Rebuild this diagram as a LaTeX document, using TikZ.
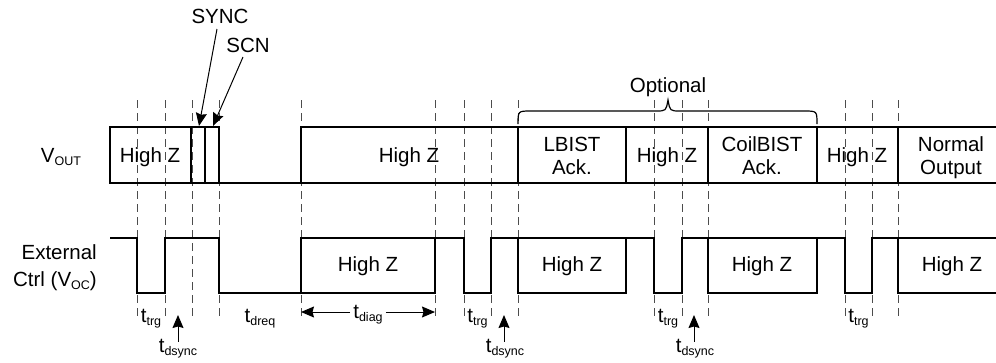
\documentclass[tikz,border=0pt]{standalone}
\usepackage{fontspec}
\setmainfont{Liberation Sans}
\usetikzlibrary{arrows.meta}
\newcommand\lbl[2]{#1\raisebox{-3.5pt}{\fontsize{12.5}{12.5}\selectfont #2}}
\begin{document}
\begin{tikzpicture}[x=1pt,y=-1pt,
  sig/.style={line width=1.4pt, line join=miter, line cap=rect},
  thicksig/.style={line width=2pt},
  guide/.style={line width=0.8pt, dash pattern=on 8pt off 5pt, black!70},
  txt/.style={font=\fontsize{20.5}{25}\selectfont, inner sep=0pt, anchor=base},
  arr/.style={line width=1pt, -{Stealth[length=13pt,width=11pt,inset=1.5pt]}},
  brace/.style={line width=1.2pt}
]
\useasboundingbox (0,0) rectangle (996,362);

% dashed guides
\foreach \x in {137,165,192,219,301,435,464,491,518,654,682,708,845,872,898}
  \draw[guide] (\x,100) -- (\x,320);

% V_OUT signal
\draw[sig] (219,127) -- (110,127) -- (110,183) -- (996,183);
\draw[sig] (301,183) -- (301,127) -- (996,127);
\draw[sig,thicksig] (191,127) -- (191,183) (205,127) -- (205,183);
\draw[sig] (219,127) -- (219,183);
\foreach \x in {518,626,708,817,898}
  \draw[sig] (\x,127) -- (\x,183);

% External Ctrl signal
\draw[sig] (111,238) -| (137,293) -| (165,238) -| (219,293) -| (301,238)
  -| (464,293) -| (491,238) -| (654,293) -| (682,238) -| (845,293) -| (872,238) -- (996,238);
\draw[sig] (301,293) -| (435,238);
\draw[sig] (518,238) |- (626,293) -- (626,238);
\draw[sig] (708,238) |- (817,293) -- (817,238);
\draw[sig] (898,238) |- (996,293);

% brace
\draw[brace] (518,124) .. controls (518,111) .. (531,111) -- (656,111)
  .. controls (666,111) .. (668,100) .. controls (670,111) .. (680,111)
  -- (804,111) .. controls (817,111) .. (817,124);
\node[txt] (opt) at (668,92) {Optional};

% row labels
\node[txt] (vout) at (61,162) {\lbl{V}{OUT}};
\node[txt,anchor=base east] (ext1) at (97,259) {External};
\node[txt,anchor=base east] (ext2) at (97,286) {Ctrl (\lbl{V}{OC})};

% V_OUT texts
\node[txt] (hz1) at (150,162) {High Z};
\node[txt] (hz2) at (409,162) {High Z};
\node[txt] (lb1) at (572,151) {LBIST};
\node[txt] (lb2) at (572,174) {Ack.};
\node[txt] (hz3) at (667,162) {High Z};
\node[txt] (cb1) at (762,151) {CoilBIST};
\node[txt] (cb2) at (762,174) {Ack.};
\node[txt] (hz4) at (857,162) {High Z};
\node[txt] (no1) at (951,151) {Normal};
\node[txt] (no2) at (951,174) {Output};

% External Ctrl texts
\node[txt] (lz1) at (368,271) {High Z};
\node[txt] (lz2) at (572,271) {High Z};
\node[txt] (lz3) at (762,271) {High Z};
\node[txt] (lz4) at (952,271) {High Z};

% SYNC / SCN callouts
\node[txt] (sync) at (220,23) {SYNC};
\node[txt] (scn) at (248,52) {SCN};
\coordinate (synctail) at (217,29);
\coordinate (synctip) at (199,126);
\coordinate (scntail) at (243,57);
\coordinate (scntip) at (213,126);
\draw[arr] (synctail) -- (synctip);
\draw[arr] (scntail) -- (scntip);

% timing labels
\node[txt] (trg1) at (151,322) {\lbl{t}{trg}};
\node[txt] (trg2) at (477.5,322) {\lbl{t}{trg}};
\node[txt] (trg3) at (668,322) {\lbl{t}{trg}};
\node[txt] (trg4) at (858.5,322) {\lbl{t}{trg}};
\node[txt] (dreq) at (260,322) {\lbl{t}{dreq}};
\node[txt] (diag) at (368,318) {\lbl{t}{diag}};
\coordinate (diagL) at (301,312);
\coordinate (diagR) at (435,312);
\draw[arr] ([xshift=-3pt]diag.west |- diagL) -- (diagL);
\draw[arr] ([xshift=3pt]diag.east |- diagR) -- (diagR);

\node[txt] (ds1) at (178,352) {\lbl{t}{dsync}};
\node[txt] (ds2) at (505,352) {\lbl{t}{dsync}};
\node[txt] (ds3) at (695,352) {\lbl{t}{dsync}};
\coordinate (ds1tip) at (178,315);
\coordinate (ds2tip) at (504,315);
\coordinate (ds3tip) at (694,315);
\draw[arr] ([yshift=-3pt]ds1tip |- ds1.north) -- (ds1tip);
\draw[arr] ([yshift=-3pt]ds2tip |- ds2.north) -- (ds2tip);
\draw[arr] ([yshift=-3pt]ds3tip |- ds3.north) -- (ds3tip);
\end{tikzpicture}
\end{document}
